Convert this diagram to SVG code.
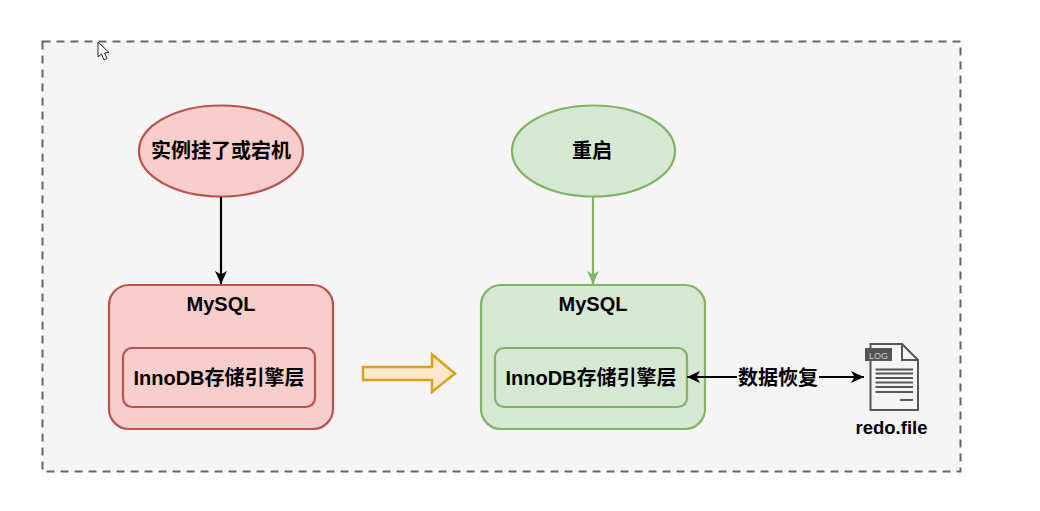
<svg xmlns="http://www.w3.org/2000/svg" width="1040" height="511" viewBox="0 0 1040 511">
<style>
text{font-family:"Liberation Sans","Noto Sans CJK SC",sans-serif;font-weight:bold;font-size:20px;fill:#000;text-anchor:middle}
.red{fill:#f8cecc;stroke:#b85450;stroke-width:2.200}
.green{fill:#d5e8d4;stroke:#82b366;stroke-width:2.200}
.c{fill:none;stroke-width:2.200}
</style>
<defs>
<marker id="ab" markerUnits="userSpaceOnUse" markerWidth="14" markerHeight="14" refX="13" refY="7" orient="auto-start-reverse"><path d="M0 1L13 7L0 13L3.500 7Z" fill="#000"/></marker>
<marker id="ag" markerUnits="userSpaceOnUse" markerWidth="14" markerHeight="14" refX="13" refY="7" orient="auto"><path d="M0 1L13 7L0 13L3.500 7Z" fill="#82b366"/></marker>
</defs>
<rect width="1040" height="511" fill="#fff"/>
<rect id="frame" x="42.500" y="41.500" width="918" height="430" fill="#f5f5f5" stroke="#666" stroke-width="2" stroke-dasharray="8 6"/>
<g id="crash"><ellipse class="red" cx="221" cy="151" rx="82" ry="45.500"/><text x="221" y="158">实例挂了或宕机</text></g>
<g id="restart"><ellipse class="green" cx="593.500" cy="151" rx="81.500" ry="45.500"/><text x="592" y="158">重启</text></g>
<g id="mysql-a"><rect class="red" x="109" y="285" width="224" height="144" rx="20"/><text x="221" y="311">MySQL</text></g>
<g id="inno-a"><rect class="red" x="123" y="348" width="192" height="59" rx="9"/><text x="219" y="385">InnoDB存储引擎层</text></g>
<g id="mysql-b"><rect class="green" x="481" y="285" width="224" height="144" rx="20"/><text x="593" y="311">MySQL</text></g>
<g id="inno-b"><rect class="green" x="495" y="348" width="192" height="59" rx="9"/><text x="591" y="385">InnoDB存储引擎层</text></g>
<g id="transition"><path d="M363 367H432V354.500L455 373.500L432 392V380H363Z" fill="#ffe6cc" stroke="#d79b00" stroke-width="2.500" stroke-opacity=".9"/></g>
<g id="redo">
<path d="M870.500 344H902L918 360V410H870.500Z" fill="#f5f5f5" stroke="#555" stroke-width="2"/>
<path d="M902 344V360H918" fill="none" stroke="#555" stroke-width="2"/>
<rect x="865" y="348" width="27" height="13" fill="#555"/>
<path d="M875.500 369.500H913M875.500 373.500H913M875.500 378H913M875.500 382.500H913M875.500 387H913M875.500 392H913M900 400H913" stroke="#555" stroke-width="1.800"/>
<text x="878.500" y="358.500" style="font-size:9px;font-weight:normal;fill:#ccc">LOG</text>
<text x="891.500" y="434" style="font-size:18.500px">redo.file</text>
</g>
<g id="connectors">
<path class="c" stroke="#000" marker-end="url(#ab)" d="M221 197V284"/>
<path class="c" stroke="#82b366" marker-end="url(#ag)" d="M593 197V284"/>
<path class="c" stroke="#000" marker-start="url(#ab)" marker-end="url(#ab)" d="M687 377H864"/>
</g>
<g id="recovery-label"><rect x="737" y="366" width="82" height="23" fill="#f5f5f5"/><text x="778" y="385">数据恢复</text></g>
<g id="cursor"><path d="M98 42V57L101.500 54L104 60L107 58.500L104.500 53L109 52.500Z" fill="#fff" stroke="#222" stroke-width="1"/></g>
</svg>
